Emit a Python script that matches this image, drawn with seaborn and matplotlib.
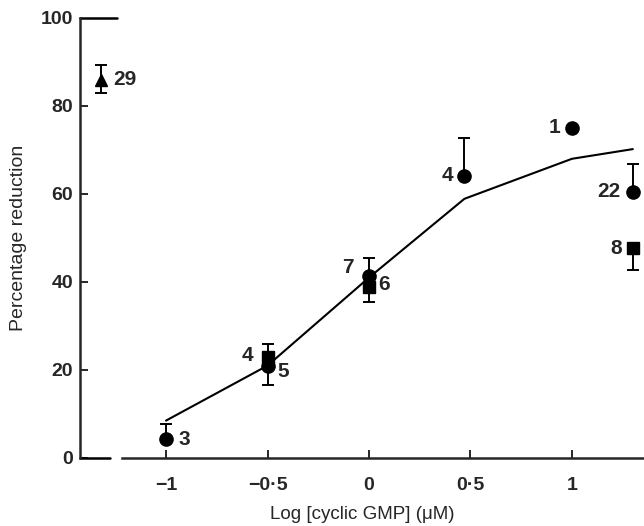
import numpy as np
import pandas as pd
import matplotlib
matplotlib.use("Agg")
import matplotlib.pyplot as plt
import seaborn as sns

# ------------------ Data ------------------
# fitted curve
curve_x = [-1.0, -0.5, 0.0, 0.47, 1.0, 1.3]
curve_y = [8.5, 21.0, 41.0, 58.9, 68.0, 70.2]

# individual points (x, y, err_low, err_high, marker, label)
pt_x = [-1.32, -1.0, -0.5, -0.5, 0.0, 0.0, 0.47, 1.0, 1.3, 1.3]
pt_y = [86.0, 4.3, 23.0, 20.9, 41.3, 38.8, 64.1, 75.0, 60.5, 47.7]
err_lo = [3.0, 0.0, 0.0, 4.3, 0.0, 3.3, 0.0, 0.0, 0.0, 5.0]
err_hi = [3.4, 3.4, 3.0, 0.0, 4.2, 0.0, 8.6, 0.0, 6.3, 0.0]
pt_marker = ['^', 'o', 's', 'o', 'o', 's', 'o', 'o', 'o', 's']
pt_label = ['29', '3', '4', '5', '7', '6', '4', '1', '22', '8']
# label offsets in points (dx, dy) and horizontal alignment
lab_dx = [9, 9, -10, 7, -11, 7, -8, -8, -9, -8]
lab_dy = [0, 0, 1, -4, 6, 2, 0, 0, 0, 0]
lab_ha = ['left', 'left', 'right', 'left', 'right', 'left', 'right', 'right', 'right', 'right']

xticks = [-1, -0.5, 0, 0.5, 1]
xticklabels = ['\u22121', '\u22120\u00b75', '0', '0\u00b75', '1']
yticks = [0, 20, 40, 60, 80, 100]

df = pd.DataFrame({'x': curve_x, 'y': curve_y})

# ------------------ Plot ------------------
sns.set_style("ticks")
plt.rcParams['font.family'] = ['Liberation Sans', 'DejaVu Sans']

fig = plt.figure(figsize=(6.44, 5.26), dpi=100)
ax = fig.add_axes([0.1242, 0.1293, 0.8758, 0.8365])

sns.lineplot(data=df, x='x', y='y', color='black', linewidth=1.5, ax=ax)

for i in range(len(pt_x)):
    ms = 9.5 if pt_marker[i] == 'o' else 9
    ax.errorbar(pt_x[i], pt_y[i], yerr=[[err_lo[i]], [err_hi[i]]],
                fmt=pt_marker[i], color='black', markersize=ms,
                elinewidth=1.4, capsize=4, capthick=1.4, clip_on=False)
    ax.annotate(pt_label[i], (pt_x[i], pt_y[i]), xytext=(lab_dx[i], lab_dy[i]),
                textcoords='offset points', ha=lab_ha[i], va='center',
                fontsize=15, fontweight='bold')

ax.set_xlim(-1.424, 1.355)
ax.set_ylim(0, 100)
ax.set_xticks(xticks)
ax.set_xticklabels(xticklabels)
ax.set_yticks(yticks)

# broken axes
sns.despine(ax=ax, top=True, right=True)
ax.spines['bottom'].set_bounds(-1.217, 1.355)
ax.spines['left'].set_linewidth(1.8)
ax.spines['bottom'].set_linewidth(1.8)
ax.plot([-1.424, -1.276], [0, 0], color='black', linewidth=1.8, clip_on=False)
ax.plot([-1.424, -1.241], [100, 100], color='black', linewidth=1.8, clip_on=False)

ax.tick_params(direction='in', length=6, width=1.4, labelsize=14)
ax.tick_params(axis='x', pad=14)
ax.tick_params(axis='y', pad=5)
for lab in ax.get_xticklabels() + ax.get_yticklabels():
    lab.set_fontweight('bold')
ax.yaxis.get_major_ticks()[-1].tick1line.set_visible(False)

ax.set_xlabel('Log [cyclic GMP] (\u03bcM)', fontsize=13.5, labelpad=8)
ax.set_ylabel('Percentage reduction', fontsize=14, labelpad=10)

fig.savefig('out.png', dpi=100)
